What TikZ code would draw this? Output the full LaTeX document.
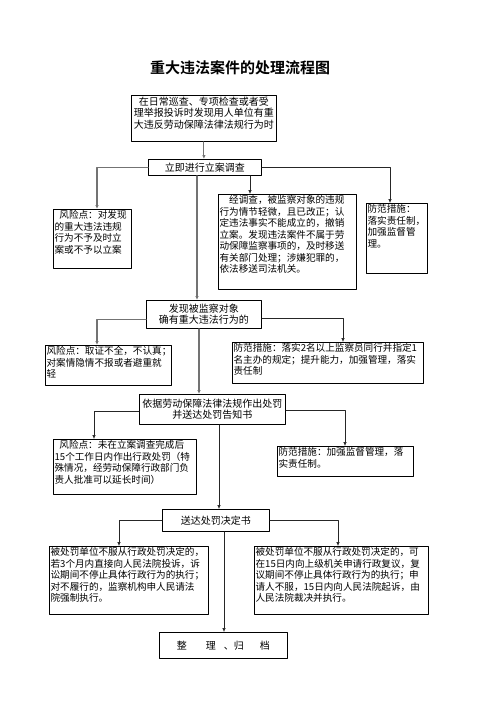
\documentclass[tikz,border=0pt]{standalone}
\usepackage{fontspec}
\setmainfont{Noto Sans CJK SC}[BoldFont={Noto Sans CJK SC Bold}]
\usetikzlibrary{arrows.meta}

\begin{document}
\begin{tikzpicture}[x=1pt, y=-1pt, >={Latex[length=4pt,width=3.5pt]}, line cap=round, line join=round,
    box/.style={draw, line width=0.8pt, inner sep=1.2pt, anchor=north west, font=\fontsize{9.6pt}{11.5pt}\selectfont},
    mainbox/.style={box, font=\fontsize{10pt}{11.5pt}\selectfont, align=center},
    link/.style={->, draw=black!85, line width=0.6pt},
    linkg/.style={->, draw=black!55, line width=1.1pt}]

  \useasboundingbox (0,0) rectangle (496,702);

  % Title
  \node[font=\fontsize{15pt}{18pt}\selectfont\bfseries] (title) at (240,68) {重大违法案件的处理流程图};

  % Main column
  \node[mainbox] (start) at (131,95) {\parbox[c][43.6pt][t]{142.6pt}{\centering 在日常巡查、专项检查或者受\\理举报投诉时发现用人单位有重\\大违反劳动保障法律法规行为时}};
  \node[mainbox, minimum width=113pt, minimum height=16pt] (survey) at (148,159) {立即进行立案调查};
  \node[mainbox, minimum width=115pt, minimum height=28pt] (found) at (146,300) {发现被监察对象\\确有重大违法行为的};
  \node[mainbox, minimum width=146pt, minimum height=30pt] (punish) at (139,394) {依据劳动保障法律法规作出处罚\\并送达处罚告知书};
  \node[mainbox, minimum width=107pt, minimum height=22pt] (deliver) at (162,509) {送达处罚决定书};
  \node[mainbox, minimum width=128pt, minimum height=26pt] (archive) at (159,632) {整\hspace{19pt}理\hspace{8pt}、归\hspace{16pt}档};

  % Side boxes
  \node[box] (risk1) at (53,209) {\parbox[c][56.6pt][t]{75.6pt}{\raggedright\hspace*{0.5em}风险点：对发现\\的重大违法违规\\行为不予及时立\\案或不予以立案}};
  \node[box] (close) at (218,194) {\parbox[c][92.6pt][t]{135.6pt}{\raggedright\hspace*{1em}经调查，被监察对象的违规\\行为情节轻微，且已改正；认\\定违法事实不能成立的，撤销\\立案。发现违法案件不属于劳\\动保障监察事项的，及时移送\\有关部门处理；涉嫌犯罪的，\\依法移送司法机关。}};
  \node[box] (guard1) at (366,203) {\parbox[c][67.6pt][t]{58.6pt}{\raggedright 防范措施：\\落实责任制，\\加强监督管\\理。}};
  \node[box] (risk2) at (45,345) {\parbox[c][37.6pt][t]{123.6pt}{\raggedright 风险点：取证不全，不认真；\\对案情隐情不报或者避重就\\轻}};
  \node[box] (guard2) at (232,342) {\parbox[c][38.6pt][t]{188.6pt}{\raggedright 防范措施：落实2名以上监察员同行并指定1\\名主办的规定；提升能力，加强管理，落实\\责任制}};
  \node[box] (risk3) at (53,439) {\parbox[c][52.6pt][t]{140.6pt}{\raggedright\hspace*{0.5em}风险点：未在立案调查完成后\\15个工作日内作出行政处罚（特\\殊情况，经劳动保障行政部门负\\责人批准可以延长时间）}};
  \node[box] (guard3) at (277,446) {\parbox[c][27.6pt][t]{133.6pt}{\raggedright 防范措施：加强监督管理，落\\实责任制。}};
  \node[box] (appeal1) at (49,546) {\parbox[c][65.6pt][t]{156.6pt}{\raggedright 被处罚单位不服从行政处罚决定的，\\若3个月内直接向人民法院投诉，诉\\讼期间不停止具体行政行为的执行；\\对不履行的，监察机构申人民请法\\院强制执行。}};
  \node[box] (appeal2) at (254,546) {\parbox[c][65.6pt][t]{171.6pt}{\raggedright 被处罚单位不服从行政处罚决定的，可\\在15日内向上级机关申请行政复议，复\\议期间不停止具体行政行为的执行；申\\请人不服，15日内向人民法院起诉，由\\人民法院裁决并执行。}};

  % Columns where the connectors drop
  \coordinate (d1) at (197,0);
  \coordinate (d2) at (250,0);
  \coordinate (d3) at (199,0);
  \coordinate (d4) at (219,0);
  \coordinate (d5) at (224,0);
  \coordinate (b1) at (97,0);
  \coordinate (b2) at (390,0);
  \coordinate (b3) at (97,0);
  \coordinate (b4) at (343,0);
  \coordinate (b5) at (94,0);
  \coordinate (b6) at (345,0);
  \coordinate (b7) at (119,0);
  \coordinate (b8) at (338,0);

  % Connectors
  \draw[linkg] (start.south) -- (start.south |- survey.north);
  \draw[linkg] (survey.west) -| (risk1.north -| b1);
  \draw[linkg] (survey.south -| d1) -- (found.north -| d1);
  \draw[link] (survey.south -| d2) -- (close.north -| d2);
  \draw[link] (survey.east) -| (guard1.north -| b2);
  \draw[linkg] ([yshift=-5pt]found.west) -| (risk2.north -| b3);
  \draw[link] ([yshift=-4pt]found.east) -| (guard2.north -| b4);
  \draw[linkg] (found.south -| d3) -- (punish.north -| d3);
  \draw[link] ([yshift=-2pt]punish.west) -| (risk3.north -| b5);
  \draw[link] ([yshift=-1pt]punish.east) -| (guard3.north -| b6);
  \draw[link] (punish.south -| d4) -- (deliver.north -| d4);
  \draw[link] (deliver.west) -| (appeal1.north -| b7);
  \draw[link] (deliver.east) -| (appeal2.north -| b8);
  \draw[link] (deliver.south -| d5) -- (archive.north -| d5);
\end{tikzpicture}
\end{document}
